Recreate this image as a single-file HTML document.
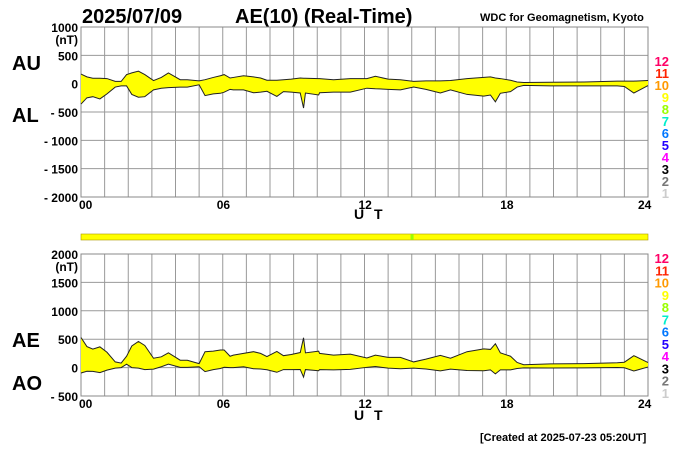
<!DOCTYPE html>
<html><head><meta charset="utf-8"><style>
body{margin:0;background:#fff;}
svg{display:block;font-family:"Liberation Sans",sans-serif;}
</style></head><body>
<svg id="c" width="700" height="450" viewBox="0 0 700 450">
<text x="82" y="23" font-size="20" font-weight="bold">2025/07/09</text>
<text x="235" y="23" font-size="20" font-weight="bold">AE(10) (Real-Time)</text>
<text x="480" y="21" font-size="11" font-weight="bold">WDC for Geomagnetism, Kyoto</text>
<text x="12" y="70" font-size="20" font-weight="bold">AU</text>
<text x="12" y="122" font-size="20" font-weight="bold">AL</text>
<text x="12" y="347" font-size="20" font-weight="bold">AE</text>
<text x="12" y="390" font-size="20" font-weight="bold">AO</text>
<text x="354" y="219" font-size="14" font-weight="bold" letter-spacing="3">U T</text>
<text x="354" y="420" font-size="14" font-weight="bold" letter-spacing="3">U T</text>
<text x="480" y="441" font-size="11" font-weight="bold">[Created at 2025-07-23 05:20UT]</text>
<g id="g"></g>
</svg>
<script>
const times=[0,0.25,0.5,0.8,1.1,1.45,1.7,1.93,2.15,2.43,2.7,3.07,3.4,3.7,4.2,4.5,5.0,5.25,5.6,5.9,6.06,6.31,6.45,6.88,7.3,7.6,7.87,8.29,8.57,8.9,9.28,9.42,9.5,10.06,10.1,10.69,11.4,12.1,12.46,13.0,13.52,14.08,14.6,15.21,15.64,16.34,17.05,17.33,17.54,17.75,18.18,18.46,18.74,19.87,21.29,22.7,23.0,23.4,23.97,24];
const auValues=[170,120,95,95,90,40,40,160,190,220,160,55,110,190,70,70,50,70,110,140,160,100,110,140,120,100,60,60,70,80,100,95,95,90,90,70,88,90,130,80,70,40,50,50,55,90,110,120,100,90,60,30,20,25,30,45,45,45,55,55];
const alValues=[-360,-250,-230,-270,-180,-60,-40,-40,-190,-240,-230,-110,-80,-70,-60,-60,-20,-210,-180,-170,-150,-100,-110,-110,-160,-150,-135,-225,-140,-150,-165,-430,-165,-200,-160,-150,-150,-80,-90,-100,-110,-60,-100,-165,-110,-190,-220,-200,-320,-170,-140,-60,-30,-40,-40,-40,-50,-165,-40,-35];
const hourTicks=["00","06","12","18","24"];
const topTicks=[1000,500,0,-500,-1000,-1500,-2000];
const botTicks=[2000,1500,1000,500,0,-500];
const levels=["12","11","10","9","8","7","6","5","4","3","2","1"];
const levelColors=["#ff0066","#ff2200","#ff9900","#ffff00","#99ff00","#00eecc","#0077ff","#2200ff","#ff00ff","#000000","#777777","#cccccc"];
const NS="http://www.w3.org/2000/svg";
const g=document.getElementById('g');
function mk(t,a,p){const e=document.createElementNS(NS,t);for(const k in a)e.setAttribute(k,a[k]);(p||g).appendChild(e);return e;}
const X0=81,X1=648;
const xs=h=>X0+(X1-X0)*h/24;
function panel(top,bot,vmax,vmin,ticks,upper,lower,pname,legTop,legBot){
  const ys=v=>top+(vmax-v)*(bot-top)/(vmax-vmin);
  const pg=mk('g',{});
  
  
  for(let h=0;h<=24;h++){const l=mk('line',{x1:xs(h),x2:xs(h),y1:top,y2:bot,stroke:'#999','stroke-width':1},pg);
    }
  ticks.forEach((v,i)=>{const l=mk('line',{x1:X0,x2:X1,y1:ys(v),y2:ys(v),stroke:'#999','stroke-width':1},pg);
    
    const t=mk('text',{x:78,y:ys(v)+5,'font-size':12,'font-weight':'bold','text-anchor':'end'},pg);
    t.textContent=(v<0?'- '+(-v):String(v));
    
    if(i==0){const u=mk('text',{x:78,y:ys(v)+17,'font-size':12,'font-weight':'bold','text-anchor':'end'},pg);u.textContent='(nT)';
      }
  });
  mk('rect',{x:X0,y:top,width:X1-X0,height:bot-top,fill:'none',stroke:'#888'},pg);
  let d='M'+times.map((t,i)=>xs(t)+','+ys(upper[i])).join('L');
  for(let i=times.length-1;i>=0;i--)d+='L'+xs(times[i])+','+ys(lower[i]);
  const f=mk('path',{d:d+'Z',fill:'#ffff00',stroke:'none'},pg);
  
  const l1=mk('polyline',{points:times.map((t,i)=>xs(t)+','+ys(upper[i])).join(' '),fill:'none',stroke:'#222','stroke-width':1},pg);
  
  const l2=mk('polyline',{points:times.map((t,i)=>xs(t)+','+ys(lower[i])).join(' '),fill:'none',stroke:'#222','stroke-width':1},pg);
  
  hourTicks.forEach((s,i)=>{const t=mk('text',{x:xs(i*6)+(i==0?-2:i==4?-10:-6),y:bot+12,'font-size':12,'font-weight':'bold'},pg);t.textContent=s;
    });
  const step=(legBot-legTop)/11;
  levels.forEach((s,i)=>{const t=mk('text',{x:669,y:legTop+5+i*step,'font-size':13,'font-weight':'bold','text-anchor':'end',fill:levelColors[i]},pg);t.textContent=s;
    });
}
panel(27,197,1000,-2000,topTicks,auValues,alValues,'au-al',61,193);
const aeValues=auValues.map((u,i)=>u-alValues[i]);
const aoValues=auValues.map((u,i)=>(u+alValues[i])/2);
panel(254,396,2000,-500,botTicks,aeValues,aoValues,'ae-ao',258,393);
const strip=mk('rect',{x:X0,y:234,width:X1-X0,height:6,fill:'#ffff00',stroke:'#aa9900','stroke-width':0.6});


const gs=mk('rect',{x:xs(13.95),y:234.3,width:3,height:5.4,fill:'#99ff00'});


</script>
</body></html>
